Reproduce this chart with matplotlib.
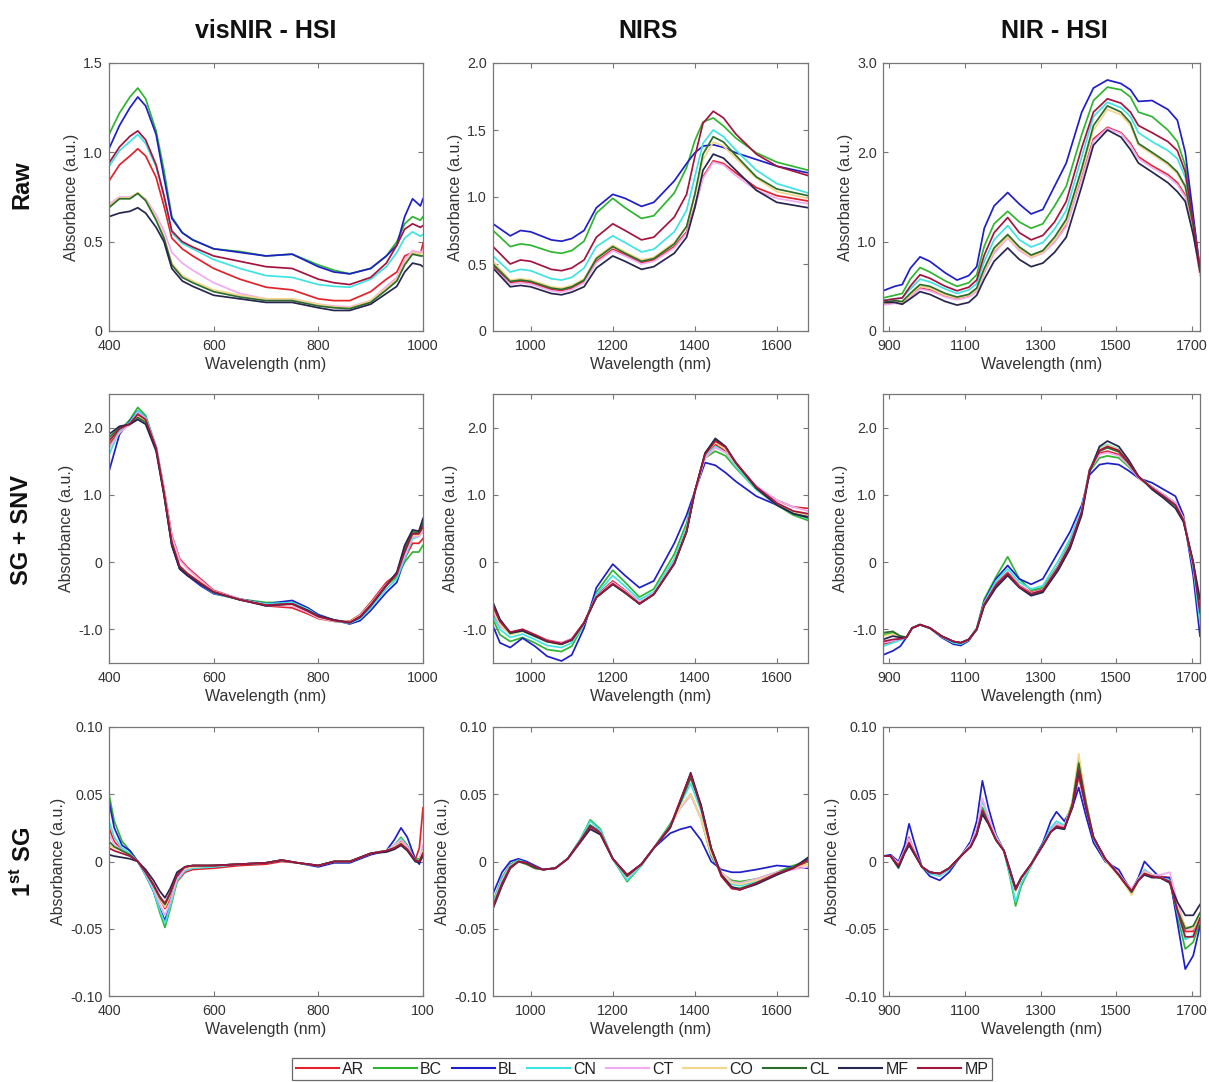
import matplotlib
matplotlib.use('Agg')
import matplotlib.pyplot as plt
from matplotlib.lines import Line2D

plt.rcParams['font.family'] = ['Liberation Sans', 'DejaVu Sans']
plt.rcParams['axes.unicode_minus'] = False
plt.rcParams['mathtext.fontset'] = 'custom'
plt.rcParams['mathtext.bf'] = 'Liberation Sans:bold'
plt.rcParams['mathtext.rm'] = 'Liberation Sans'

# ---------------- series ----------------
series = ['AR', 'BC', 'BL', 'CN', 'CT', 'CO', 'CL', 'MF', 'MP']
colors = {'AR': '#e3222b', 'BC': '#2fb52f', 'BL': '#1f1fc8', 'CN': '#3fe3e3',
          'CT': '#f2aaf0', 'CO': '#f6d68c', 'CL': '#2b6e2b', 'MF': '#26264e',
          'MP': '#a3143f'}

col_titles = ['visNIR - HSI', 'NIRS', 'NIR - HSI']
row_titles = ['Raw', 'SG + SNV', '1$^{\\mathbf{st}}$ SG']

# ---------------- Raw, visNIR-HSI ----------------
wl_raw_vis = [400, 420, 440, 455, 470, 490, 505, 520, 540, 560, 600, 650, 700, 750, 800, 830, 860, 900, 930, 950, 965, 980, 995, 1000]
raw_vis_AR = [0.84, 0.93, 0.98, 1.02, 0.98, 0.86, 0.70, 0.52, 0.46, 0.42, 0.35, 0.29, 0.245, 0.23, 0.18, 0.17, 0.17, 0.22, 0.29, 0.33, 0.42, 0.44, 0.43, 0.49]
raw_vis_BC = [1.10, 1.22, 1.31, 1.36, 1.30, 1.12, 0.90, 0.64, 0.55, 0.51, 0.46, 0.445, 0.42, 0.43, 0.37, 0.34, 0.32, 0.35, 0.42, 0.50, 0.60, 0.64, 0.62, 0.64]
raw_vis_BL = [1.02, 1.15, 1.25, 1.31, 1.26, 1.10, 0.86, 0.63, 0.55, 0.51, 0.46, 0.44, 0.42, 0.43, 0.36, 0.33, 0.32, 0.35, 0.42, 0.48, 0.64, 0.74, 0.70, 0.74]
raw_vis_CN = [0.92, 1.01, 1.06, 1.10, 1.05, 0.92, 0.75, 0.55, 0.49, 0.46, 0.40, 0.35, 0.31, 0.30, 0.26, 0.25, 0.245, 0.29, 0.36, 0.44, 0.52, 0.555, 0.53, 0.54]
raw_vis_CT = [0.71, 0.75, 0.75, 0.77, 0.74, 0.65, 0.56, 0.44, 0.38, 0.34, 0.27, 0.21, 0.18, 0.18, 0.15, 0.14, 0.135, 0.17, 0.25, 0.30, 0.40, 0.45, 0.44, 0.45]
raw_vis_CO = [0.70, 0.745, 0.745, 0.775, 0.735, 0.63, 0.53, 0.38, 0.31, 0.28, 0.23, 0.20, 0.18, 0.18, 0.15, 0.135, 0.13, 0.17, 0.24, 0.29, 0.38, 0.44, 0.43, 0.44]
raw_vis_CL = [0.69, 0.74, 0.74, 0.77, 0.73, 0.62, 0.52, 0.37, 0.30, 0.27, 0.22, 0.19, 0.17, 0.17, 0.14, 0.13, 0.125, 0.16, 0.23, 0.28, 0.37, 0.43, 0.42, 0.42]
raw_vis_MF = [0.64, 0.66, 0.67, 0.69, 0.66, 0.58, 0.50, 0.35, 0.28, 0.25, 0.20, 0.18, 0.16, 0.16, 0.13, 0.115, 0.115, 0.15, 0.21, 0.25, 0.33, 0.38, 0.37, 0.36]
raw_vis_MP = [0.94, 1.03, 1.09, 1.12, 1.07, 0.93, 0.76, 0.56, 0.50, 0.47, 0.42, 0.39, 0.36, 0.35, 0.29, 0.27, 0.26, 0.30, 0.38, 0.48, 0.57, 0.60, 0.58, 0.59]

# ---------------- Raw, NIRS ----------------
wl_raw_nirs = [908, 950, 975, 1000, 1050, 1075, 1100, 1130, 1160, 1200, 1230, 1270, 1300, 1350, 1380, 1400, 1420, 1445, 1470, 1500, 1550, 1600, 1676]
raw_nirs_AR = [0.49, 0.36, 0.37, 0.36, 0.31, 0.30, 0.32, 0.37, 0.52, 0.61, 0.57, 0.51, 0.53, 0.63, 0.74, 0.93, 1.15, 1.27, 1.25, 1.18, 1.07, 1.01, 0.97]
raw_nirs_BC = [0.75, 0.63, 0.65, 0.64, 0.59, 0.58, 0.60, 0.67, 0.88, 0.99, 0.92, 0.84, 0.86, 1.03, 1.22, 1.42, 1.56, 1.59, 1.53, 1.44, 1.33, 1.26, 1.20]
raw_nirs_BL = [0.80, 0.71, 0.75, 0.74, 0.68, 0.67, 0.69, 0.75, 0.92, 1.02, 0.99, 0.93, 0.96, 1.12, 1.25, 1.33, 1.38, 1.39, 1.37, 1.33, 1.28, 1.23, 1.18]
raw_nirs_CN = [0.56, 0.44, 0.46, 0.45, 0.39, 0.38, 0.40, 0.47, 0.63, 0.71, 0.66, 0.59, 0.61, 0.74, 0.90, 1.15, 1.40, 1.50, 1.45, 1.35, 1.20, 1.10, 1.03]
raw_nirs_CT = [0.47, 0.35, 0.36, 0.35, 0.30, 0.29, 0.31, 0.36, 0.51, 0.60, 0.56, 0.50, 0.52, 0.62, 0.73, 0.92, 1.14, 1.26, 1.24, 1.16, 1.05, 0.99, 0.95]
raw_nirs_CO = [0.52, 0.38, 0.39, 0.38, 0.33, 0.32, 0.34, 0.39, 0.55, 0.64, 0.59, 0.53, 0.55, 0.66, 0.78, 1.00, 1.28, 1.41, 1.38, 1.29, 1.14, 1.04, 0.99]
raw_nirs_CL = [0.50, 0.37, 0.38, 0.37, 0.32, 0.31, 0.33, 0.38, 0.54, 0.63, 0.58, 0.52, 0.54, 0.65, 0.78, 1.02, 1.32, 1.45, 1.41, 1.31, 1.15, 1.06, 1.01]
raw_nirs_MF = [0.47, 0.33, 0.34, 0.33, 0.28, 0.27, 0.29, 0.33, 0.47, 0.56, 0.52, 0.46, 0.48, 0.58, 0.70, 0.92, 1.20, 1.32, 1.29, 1.20, 1.05, 0.96, 0.92]
raw_nirs_MP = [0.63, 0.50, 0.53, 0.52, 0.46, 0.45, 0.47, 0.53, 0.70, 0.80, 0.75, 0.68, 0.70, 0.85, 1.02, 1.30, 1.55, 1.64, 1.59, 1.47, 1.32, 1.23, 1.16]

# ---------------- Raw, NIR-HSI ----------------
wl_raw_hsi = [883, 914, 934, 955, 981, 1007, 1048, 1079, 1110, 1131, 1151, 1177, 1213, 1244, 1275, 1306, 1337, 1368, 1409, 1440, 1477, 1513, 1538, 1559, 1595, 1637, 1662, 1683, 1704, 1722]
raw_hsi_AR = [0.30, 0.32, 0.31, 0.39, 0.48, 0.46, 0.39, 0.36, 0.39, 0.45, 0.66, 0.88, 1.05, 0.91, 0.83, 0.88, 1.00, 1.18, 1.72, 2.15, 2.28, 2.22, 2.10, 1.95, 1.85, 1.75, 1.66, 1.52, 1.12, 0.64]
raw_hsi_BC = [0.37, 0.40, 0.42, 0.58, 0.71, 0.66, 0.56, 0.50, 0.54, 0.63, 0.95, 1.20, 1.34, 1.22, 1.15, 1.20, 1.40, 1.62, 2.20, 2.58, 2.73, 2.70, 2.62, 2.45, 2.40, 2.25, 2.12, 1.85, 1.25, 0.70]
raw_hsi_BL = [0.45, 0.50, 0.52, 0.70, 0.83, 0.78, 0.65, 0.57, 0.62, 0.72, 1.15, 1.40, 1.55, 1.42, 1.31, 1.36, 1.62, 1.88, 2.45, 2.72, 2.81, 2.77, 2.70, 2.57, 2.58, 2.48, 2.36, 2.00, 1.30, 0.68]
raw_hsi_CN = [0.34, 0.36, 0.37, 0.47, 0.58, 0.55, 0.47, 0.42, 0.46, 0.53, 0.78, 1.02, 1.18, 1.02, 0.94, 0.99, 1.14, 1.35, 1.95, 2.40, 2.56, 2.50, 2.40, 2.22, 2.12, 2.02, 1.93, 1.72, 1.20, 0.68]
raw_hsi_CT = [0.29, 0.31, 0.30, 0.38, 0.47, 0.45, 0.38, 0.35, 0.38, 0.44, 0.65, 0.87, 1.04, 0.90, 0.82, 0.87, 0.99, 1.17, 1.70, 2.13, 2.27, 2.21, 2.08, 1.93, 1.83, 1.73, 1.64, 1.50, 1.10, 0.62]
raw_hsi_CO = [0.31, 0.33, 0.32, 0.40, 0.50, 0.48, 0.40, 0.37, 0.40, 0.46, 0.68, 0.90, 1.05, 0.92, 0.83, 0.88, 1.02, 1.22, 1.78, 2.25, 2.48, 2.42, 2.30, 2.08, 1.98, 1.86, 1.76, 1.60, 1.16, 0.65]
raw_hsi_CL = [0.32, 0.34, 0.33, 0.42, 0.52, 0.50, 0.42, 0.38, 0.41, 0.48, 0.70, 0.93, 1.08, 0.94, 0.85, 0.90, 1.05, 1.25, 1.82, 2.30, 2.52, 2.45, 2.33, 2.10, 2.00, 1.88, 1.78, 1.62, 1.18, 0.66]
raw_hsi_MF = [0.32, 0.32, 0.30, 0.36, 0.44, 0.41, 0.33, 0.29, 0.32, 0.40, 0.58, 0.78, 0.93, 0.80, 0.72, 0.76, 0.88, 1.05, 1.62, 2.08, 2.25, 2.17, 2.03, 1.88, 1.78, 1.66, 1.56, 1.45, 1.08, 0.68]
raw_hsi_MP = [0.34, 0.36, 0.37, 0.50, 0.63, 0.59, 0.50, 0.45, 0.49, 0.57, 0.85, 1.10, 1.27, 1.10, 1.02, 1.07, 1.22, 1.45, 2.05, 2.45, 2.60, 2.55, 2.45, 2.30, 2.22, 2.12, 2.02, 1.78, 1.22, 0.70]

# ---------------- SG + SNV, visNIR-HSI ----------------
wl_snv_vis = [400, 420, 440, 455, 470, 490, 505, 520, 535, 550, 575, 600, 650, 700, 750, 780, 800, 830, 860, 880, 900, 930, 950, 965, 980, 992, 1000]
snv_vis_AR = [1.75, 1.95, 2.05, 2.20, 2.12, 1.72, 1.10, 0.40, 0.05, -0.08, -0.25, -0.42, -0.55, -0.65, -0.68, -0.77, -0.84, -0.88, -0.88, -0.78, -0.60, -0.30, -0.18, 0.05, 0.28, 0.28, 0.35]
snv_vis_BC = [1.70, 1.95, 2.12, 2.30, 2.18, 1.72, 1.05, 0.30, -0.08, -0.18, -0.33, -0.45, -0.55, -0.60, -0.60, -0.72, -0.82, -0.88, -0.90, -0.80, -0.62, -0.35, -0.22, 0.00, 0.15, 0.15, 0.25]
snv_vis_BL = [1.35, 1.90, 2.10, 2.25, 2.15, 1.70, 1.02, 0.25, -0.10, -0.20, -0.35, -0.47, -0.55, -0.62, -0.57, -0.68, -0.78, -0.86, -0.92, -0.87, -0.72, -0.45, -0.30, 0.05, 0.40, 0.45, 0.55]
snv_vis_CN = [1.60, 1.95, 2.08, 2.25, 2.15, 1.72, 1.05, 0.30, -0.08, -0.18, -0.33, -0.46, -0.56, -0.62, -0.60, -0.70, -0.80, -0.87, -0.91, -0.84, -0.68, -0.40, -0.25, 0.05, 0.35, 0.38, 0.45]
snv_vis_CT = [1.70, 1.92, 2.05, 2.22, 2.13, 1.72, 1.08, 0.38, 0.03, -0.10, -0.27, -0.43, -0.55, -0.64, -0.65, -0.75, -0.83, -0.88, -0.89, -0.79, -0.62, -0.33, -0.18, 0.10, 0.38, 0.38, 0.45]
snv_vis_CO = [1.80, 1.98, 2.06, 2.18, 2.10, 1.70, 1.05, 0.32, -0.05, -0.16, -0.30, -0.44, -0.56, -0.64, -0.63, -0.73, -0.82, -0.87, -0.89, -0.80, -0.63, -0.35, -0.18, 0.15, 0.40, 0.40, 0.50]
snv_vis_CL = [1.85, 2.00, 2.05, 2.15, 2.08, 1.68, 1.02, 0.27, -0.08, -0.18, -0.32, -0.45, -0.56, -0.64, -0.62, -0.72, -0.81, -0.86, -0.90, -0.81, -0.64, -0.34, -0.16, 0.20, 0.45, 0.44, 0.58]
snv_vis_MF = [1.90, 2.02, 2.05, 2.12, 2.05, 1.65, 1.00, 0.25, -0.10, -0.20, -0.33, -0.45, -0.56, -0.65, -0.62, -0.72, -0.80, -0.86, -0.90, -0.82, -0.65, -0.35, -0.15, 0.25, 0.48, 0.46, 0.65]
snv_vis_MP = [1.80, 1.98, 2.06, 2.20, 2.12, 1.70, 1.04, 0.30, -0.06, -0.17, -0.31, -0.44, -0.56, -0.64, -0.62, -0.73, -0.81, -0.87, -0.90, -0.81, -0.64, -0.35, -0.18, 0.15, 0.42, 0.42, 0.52]

# ---------------- SG + SNV, NIRS ----------------
wl_snv_nirs = [908, 925, 950, 980, 1010, 1040, 1075, 1100, 1130, 1160, 1200, 1230, 1265, 1300, 1350, 1380, 1400, 1425, 1450, 1475, 1500, 1550, 1600, 1640, 1676]
snv_nirs_AR = [-0.75, -0.95, -1.05, -1.00, -1.08, -1.16, -1.20, -1.14, -0.90, -0.50, -0.28, -0.42, -0.60, -0.47, 0.00, 0.48, 1.05, 1.58, 1.75, 1.65, 1.45, 1.12, 0.92, 0.82, 0.80]
snv_nirs_BC = [-0.85, -1.08, -1.18, -1.12, -1.20, -1.30, -1.33, -1.25, -0.92, -0.45, -0.12, -0.30, -0.52, -0.40, 0.12, 0.58, 1.05, 1.55, 1.65, 1.58, 1.40, 1.08, 0.85, 0.70, 0.62]
snv_nirs_BL = [-0.95, -1.20, -1.27, -1.13, -1.25, -1.40, -1.47, -1.38, -0.98, -0.38, -0.03, -0.20, -0.38, -0.28, 0.28, 0.70, 1.05, 1.48, 1.44, 1.33, 1.20, 0.98, 0.85, 0.75, 0.68]
snv_nirs_CN = [-0.80, -1.00, -1.12, -1.07, -1.15, -1.24, -1.27, -1.20, -0.92, -0.48, -0.20, -0.36, -0.56, -0.44, 0.05, 0.52, 1.05, 1.58, 1.72, 1.63, 1.42, 1.08, 0.85, 0.72, 0.65]
snv_nirs_CT = [-0.72, -0.95, -1.06, -1.01, -1.09, -1.17, -1.20, -1.14, -0.90, -0.51, -0.30, -0.43, -0.60, -0.46, 0.00, 0.47, 1.03, 1.55, 1.70, 1.63, 1.45, 1.13, 0.92, 0.82, 0.76]
snv_nirs_CO = [-0.70, -0.92, -1.08, -1.03, -1.11, -1.19, -1.23, -1.16, -0.91, -0.52, -0.32, -0.45, -0.62, -0.48, -0.02, 0.46, 1.04, 1.60, 1.78, 1.68, 1.46, 1.10, 0.86, 0.74, 0.70]
snv_nirs_CL = [-0.65, -0.88, -1.06, -1.02, -1.10, -1.18, -1.22, -1.16, -0.91, -0.53, -0.33, -0.46, -0.62, -0.48, -0.03, 0.45, 1.04, 1.62, 1.82, 1.71, 1.47, 1.10, 0.85, 0.72, 0.66]
snv_nirs_MF = [-0.60, -0.85, -1.05, -1.02, -1.10, -1.18, -1.22, -1.16, -0.90, -0.52, -0.33, -0.45, -0.62, -0.48, -0.02, 0.45, 1.05, 1.62, 1.84, 1.72, 1.48, 1.10, 0.85, 0.72, 0.67]
snv_nirs_MP = [-0.65, -0.88, -1.04, -1.00, -1.08, -1.17, -1.21, -1.15, -0.90, -0.52, -0.32, -0.45, -0.62, -0.48, -0.02, 0.46, 1.05, 1.60, 1.80, 1.71, 1.48, 1.12, 0.88, 0.76, 0.72]

# ---------------- SG + SNV, NIR-HSI ----------------
wl_snv_hsi = [883, 909, 929, 945, 960, 981, 1007, 1038, 1069, 1089, 1110, 1131, 1151, 1182, 1213, 1244, 1275, 1306, 1347, 1378, 1409, 1430, 1456, 1477, 1507, 1533, 1559, 1595, 1626, 1657, 1678, 1704, 1722]
snv_hsi_AR = [-1.22, -1.18, -1.15, -1.12, -0.98, -0.93, -0.98, -1.10, -1.18, -1.20, -1.15, -1.00, -0.62, -0.32, -0.15, -0.35, -0.45, -0.40, -0.05, 0.28, 0.78, 1.38, 1.62, 1.65, 1.60, 1.45, 1.25, 1.12, 1.00, 0.88, 0.65, -0.05, -0.80]
snv_hsi_BC = [-1.08, -1.05, -1.10, -1.12, -0.98, -0.93, -0.98, -1.10, -1.20, -1.22, -1.15, -0.98, -0.55, -0.22, 0.08, -0.25, -0.42, -0.38, -0.05, 0.30, 0.80, 1.35, 1.55, 1.58, 1.55, 1.42, 1.26, 1.12, 1.00, 0.88, 0.65, -0.05, -0.75]
snv_hsi_BL = [-1.38, -1.32, -1.25, -1.12, -0.98, -0.93, -0.98, -1.12, -1.22, -1.24, -1.17, -1.00, -0.58, -0.25, -0.05, -0.25, -0.33, -0.25, 0.15, 0.45, 0.85, 1.30, 1.45, 1.47, 1.45, 1.36, 1.25, 1.18, 1.08, 0.98, 0.70, -0.20, -1.10]
snv_hsi_CN = [-1.25, -1.20, -1.16, -1.12, -0.98, -0.93, -0.98, -1.11, -1.20, -1.22, -1.16, -1.00, -0.60, -0.28, -0.10, -0.30, -0.40, -0.35, 0.02, 0.35, 0.80, 1.38, 1.70, 1.75, 1.68, 1.50, 1.27, 1.12, 1.00, 0.88, 0.65, -0.08, -0.90]
snv_hsi_CT = [-1.20, -1.17, -1.14, -1.12, -0.98, -0.93, -0.98, -1.10, -1.18, -1.20, -1.15, -1.00, -0.62, -0.33, -0.16, -0.36, -0.46, -0.41, -0.06, 0.27, 0.77, 1.37, 1.60, 1.63, 1.58, 1.44, 1.25, 1.12, 1.00, 0.88, 0.66, -0.02, -0.70]
snv_hsi_CO = [-1.10, -1.07, -1.12, -1.12, -0.98, -0.93, -0.98, -1.10, -1.18, -1.20, -1.15, -1.00, -0.64, -0.36, -0.18, -0.37, -0.48, -0.43, -0.10, 0.22, 0.72, 1.36, 1.68, 1.74, 1.67, 1.49, 1.27, 1.10, 0.97, 0.83, 0.62, 0.00, -0.65]
snv_hsi_CL = [-1.05, -1.03, -1.10, -1.12, -0.98, -0.93, -0.98, -1.10, -1.18, -1.20, -1.15, -1.00, -0.63, -0.35, -0.17, -0.37, -0.48, -0.43, -0.08, 0.24, 0.74, 1.36, 1.65, 1.70, 1.64, 1.47, 1.27, 1.10, 0.97, 0.84, 0.62, 0.00, -0.70]
snv_hsi_MF = [-1.15, -1.10, -1.12, -1.12, -0.98, -0.93, -0.98, -1.10, -1.18, -1.20, -1.15, -1.00, -0.65, -0.38, -0.20, -0.38, -0.50, -0.45, -0.12, 0.20, 0.70, 1.35, 1.72, 1.80, 1.72, 1.52, 1.28, 1.08, 0.95, 0.80, 0.60, 0.00, -0.55]
snv_hsi_MP = [-1.18, -1.15, -1.14, -1.12, -0.98, -0.93, -0.98, -1.10, -1.18, -1.20, -1.15, -1.00, -0.63, -0.34, -0.17, -0.37, -0.47, -0.42, -0.08, 0.25, 0.75, 1.37, 1.66, 1.72, 1.66, 1.48, 1.27, 1.10, 0.98, 0.85, 0.63, -0.02, -0.75]

# ---------------- 1st SG, visNIR-HSI ----------------
wl_sg_vis = [400, 410, 425, 440, 455, 470, 485, 497, 507, 517, 530, 545, 560, 600, 650, 700, 730, 760, 800, 830, 860, 900, 930, 945, 958, 970, 985, 993, 1000]
sg_vis_AR = [0.025, 0.015, 0.008, 0.005, 0.000, -0.008, -0.018, -0.028, -0.035, -0.028, -0.015, -0.008, -0.006, -0.005, -0.003, -0.002, 0.000, -0.001, -0.003, 0.000, 0.000, 0.006, 0.008, 0.011, 0.015, 0.010, 0.001, 0.010, 0.040]
sg_vis_BC = [0.050, 0.030, 0.015, 0.008, 0.000, -0.010, -0.022, -0.038, -0.049, -0.035, -0.015, -0.006, -0.004, -0.003, -0.002, -0.001, 0.001, -0.001, -0.003, 0.000, 0.000, 0.006, 0.008, 0.012, 0.018, 0.012, 0.002, 0.002, 0.008]
sg_vis_BL = [0.045, 0.025, 0.012, 0.008, 0.000, -0.010, -0.022, -0.035, -0.044, -0.030, -0.012, -0.005, -0.004, -0.003, -0.002, -0.001, 0.001, -0.001, -0.004, -0.001, -0.001, 0.005, 0.008, 0.016, 0.025, 0.018, 0.002, -0.002, 0.010]
sg_vis_CN = [0.030, 0.018, 0.010, 0.006, 0.000, -0.010, -0.022, -0.036, -0.046, -0.033, -0.014, -0.007, -0.005, -0.004, -0.002, -0.001, 0.001, -0.001, -0.003, 0.000, 0.000, 0.006, 0.008, 0.012, 0.017, 0.011, 0.001, 0.000, 0.010]
sg_vis_CT = [0.020, 0.013, 0.008, 0.005, 0.000, -0.009, -0.020, -0.032, -0.040, -0.030, -0.013, -0.006, -0.004, -0.003, -0.002, -0.001, 0.001, -0.001, -0.003, 0.000, 0.000, 0.006, 0.008, 0.012, 0.016, 0.011, 0.001, 0.000, 0.012]
sg_vis_CO = [0.012, 0.010, 0.008, 0.005, 0.000, -0.008, -0.018, -0.028, -0.034, -0.025, -0.010, -0.005, -0.004, -0.003, -0.002, -0.001, 0.001, -0.001, -0.003, 0.000, 0.000, 0.006, 0.008, 0.011, 0.014, 0.009, 0.001, 0.000, 0.008]
sg_vis_CL = [0.015, 0.011, 0.008, 0.005, 0.000, -0.008, -0.018, -0.027, -0.032, -0.024, -0.010, -0.004, -0.003, -0.003, -0.002, -0.001, 0.001, -0.001, -0.003, 0.000, 0.000, 0.006, 0.008, 0.010, 0.013, 0.009, 0.001, 0.000, 0.006]
sg_vis_MF = [0.005, 0.004, 0.003, 0.002, 0.000, -0.006, -0.014, -0.022, -0.027, -0.020, -0.008, -0.004, -0.003, -0.003, -0.002, -0.001, 0.001, -0.001, -0.003, 0.000, 0.000, 0.006, 0.007, 0.009, 0.012, 0.008, 0.000, -0.001, 0.004]
sg_vis_MP = [0.010, 0.008, 0.006, 0.004, 0.000, -0.008, -0.017, -0.026, -0.031, -0.023, -0.010, -0.004, -0.003, -0.003, -0.002, -0.001, 0.001, -0.001, -0.003, 0.000, 0.000, 0.006, 0.008, 0.010, 0.013, 0.009, 0.001, 0.000, 0.006]

# ---------------- 1st SG, NIRS ----------------
wl_sg_nirs = [908, 930, 950, 970, 990, 1010, 1030, 1060, 1090, 1120, 1145, 1170, 1200, 1235, 1270, 1300, 1340, 1365, 1390, 1415, 1440, 1465, 1490, 1510, 1550, 1600, 1640, 1676]
sg_nirs_AR = [-0.033, -0.016, -0.004, 0.000, -0.002, -0.005, -0.006, -0.005, 0.002, 0.014, 0.025, 0.020, 0.002, -0.010, -0.002, 0.010, 0.025, 0.045, 0.065, 0.041, 0.009, -0.011, -0.020, -0.021, -0.016, -0.009, -0.005, 0.000]
sg_nirs_BC = [-0.030, -0.012, -0.002, 0.001, -0.001, -0.004, -0.006, -0.005, 0.002, 0.016, 0.031, 0.024, 0.002, -0.015, -0.003, 0.010, 0.028, 0.040, 0.050, 0.032, 0.004, -0.009, -0.014, -0.015, -0.013, -0.008, -0.003, 0.000]
sg_nirs_BL = [-0.024, -0.008, 0.000, 0.002, 0.000, -0.003, -0.006, -0.005, 0.002, 0.015, 0.027, 0.022, 0.002, -0.011, -0.002, 0.010, 0.021, 0.024, 0.026, 0.016, 0.000, -0.006, -0.008, -0.008, -0.006, -0.003, -0.004, -0.005]
sg_nirs_CN = [-0.031, -0.013, -0.003, 0.001, -0.001, -0.004, -0.006, -0.005, 0.002, 0.016, 0.030, 0.023, 0.002, -0.014, -0.003, 0.010, 0.027, 0.043, 0.058, 0.038, 0.008, -0.009, -0.017, -0.018, -0.015, -0.009, -0.004, 0.001]
sg_nirs_CT = [-0.032, -0.014, -0.003, 0.000, -0.002, -0.005, -0.006, -0.005, 0.002, 0.015, 0.027, 0.021, 0.002, -0.012, -0.002, 0.010, 0.026, 0.040, 0.049, 0.032, 0.006, -0.008, -0.015, -0.016, -0.013, -0.008, -0.006, -0.004]
sg_nirs_CO = [-0.034, -0.017, -0.004, 0.000, -0.002, -0.005, -0.006, -0.005, 0.002, 0.014, 0.026, 0.020, 0.002, -0.011, -0.002, 0.010, 0.025, 0.041, 0.050, 0.032, 0.006, -0.009, -0.016, -0.017, -0.014, -0.009, -0.005, -0.002]
sg_nirs_CL = [-0.033, -0.016, -0.004, 0.000, -0.002, -0.005, -0.006, -0.005, 0.002, 0.015, 0.027, 0.021, 0.002, -0.011, -0.002, 0.010, 0.026, 0.044, 0.062, 0.042, 0.010, -0.010, -0.019, -0.020, -0.016, -0.009, -0.004, 0.002]
sg_nirs_MF = [-0.035, -0.018, -0.005, 0.000, -0.001, -0.004, -0.006, -0.005, 0.002, 0.014, 0.024, 0.020, 0.002, -0.010, -0.002, 0.010, 0.025, 0.045, 0.066, 0.042, 0.010, -0.010, -0.019, -0.021, -0.017, -0.010, -0.005, 0.003]
sg_nirs_MP = [-0.034, -0.017, -0.005, 0.000, -0.001, -0.004, -0.006, -0.005, 0.002, 0.015, 0.026, 0.021, 0.002, -0.010, -0.002, 0.010, 0.026, 0.046, 0.065, 0.040, 0.009, -0.011, -0.020, -0.021, -0.016, -0.009, -0.005, 0.001]

# ---------------- 1st SG, NIR-HSI ----------------
wl_sg_hsi = [883, 903, 924, 940, 952, 965, 986, 1007, 1033, 1058, 1089, 1115, 1131, 1146, 1162, 1182, 1203, 1218, 1234, 1249, 1275, 1306, 1327, 1342, 1363, 1384, 1401, 1420, 1440, 1471, 1507, 1523, 1541, 1559, 1575, 1595, 1616, 1642, 1662, 1683, 1704, 1722]
sg_hsi_AR = [0.004, 0.004, -0.001, 0.008, 0.018, 0.008, -0.004, -0.008, -0.009, -0.005, 0.004, 0.012, 0.022, 0.040, 0.029, 0.017, 0.008, -0.006, -0.021, -0.012, -0.002, 0.012, 0.023, 0.027, 0.025, 0.040, 0.063, 0.040, 0.018, 0.002, -0.009, -0.015, -0.021, -0.013, -0.007, -0.010, -0.011, -0.012, -0.035, -0.052, -0.052, -0.040]
sg_hsi_BC = [0.004, 0.004, -0.002, 0.008, 0.016, 0.008, -0.004, -0.009, -0.010, -0.006, 0.004, 0.012, 0.022, 0.040, 0.030, 0.018, 0.008, -0.010, -0.033, -0.018, -0.003, 0.013, 0.024, 0.028, 0.026, 0.044, 0.075, 0.044, 0.018, 0.001, -0.010, -0.016, -0.024, -0.013, -0.008, -0.011, -0.012, -0.015, -0.040, -0.065, -0.060, -0.045]
sg_hsi_BL = [0.004, 0.005, 0.000, 0.012, 0.028, 0.015, -0.004, -0.011, -0.014, -0.008, 0.004, 0.015, 0.030, 0.060, 0.040, 0.020, 0.008, -0.005, -0.020, -0.012, -0.002, 0.014, 0.030, 0.037, 0.030, 0.040, 0.055, 0.034, 0.014, 0.000, -0.006, -0.014, -0.022, -0.012, 0.000, -0.006, -0.012, -0.012, -0.045, -0.080, -0.070, -0.048]
sg_hsi_CN = [0.004, 0.004, -0.002, 0.008, 0.017, 0.008, -0.004, -0.009, -0.011, -0.006, 0.004, 0.013, 0.024, 0.045, 0.032, 0.019, 0.008, -0.009, -0.030, -0.016, -0.003, 0.013, 0.025, 0.030, 0.027, 0.043, 0.070, 0.042, 0.017, 0.001, -0.009, -0.015, -0.023, -0.013, -0.006, -0.010, -0.012, -0.014, -0.038, -0.058, -0.055, -0.042]
sg_hsi_CT = [0.004, 0.004, -0.001, 0.008, 0.017, 0.008, -0.004, -0.008, -0.010, -0.005, 0.004, 0.013, 0.024, 0.047, 0.033, 0.018, 0.008, -0.006, -0.021, -0.012, -0.002, 0.012, 0.023, 0.028, 0.026, 0.041, 0.066, 0.040, 0.018, 0.002, -0.009, -0.015, -0.021, -0.013, -0.007, -0.010, -0.010, -0.008, -0.030, -0.050, -0.050, -0.040]
sg_hsi_CO = [0.004, 0.004, -0.003, 0.007, 0.014, 0.007, -0.004, -0.008, -0.009, -0.005, 0.004, 0.011, 0.020, 0.037, 0.028, 0.016, 0.008, -0.006, -0.022, -0.012, -0.002, 0.012, 0.022, 0.026, 0.025, 0.045, 0.080, 0.046, 0.018, 0.001, -0.011, -0.017, -0.025, -0.014, -0.008, -0.011, -0.012, -0.015, -0.034, -0.048, -0.050, -0.040]
sg_hsi_CL = [0.004, 0.004, -0.005, 0.006, 0.013, 0.006, -0.004, -0.008, -0.009, -0.005, 0.004, 0.011, 0.020, 0.036, 0.028, 0.016, 0.008, -0.006, -0.021, -0.012, -0.002, 0.012, 0.022, 0.026, 0.024, 0.043, 0.073, 0.044, 0.018, 0.002, -0.010, -0.016, -0.023, -0.014, -0.009, -0.011, -0.012, -0.015, -0.036, -0.050, -0.048, -0.038]
sg_hsi_MF = [0.004, 0.004, -0.004, 0.006, 0.012, 0.006, -0.004, -0.008, -0.009, -0.005, 0.004, 0.011, 0.020, 0.035, 0.028, 0.016, 0.008, -0.006, -0.020, -0.012, -0.002, 0.012, 0.022, 0.025, 0.024, 0.040, 0.066, 0.040, 0.018, 0.002, -0.010, -0.016, -0.022, -0.014, -0.010, -0.012, -0.012, -0.016, -0.030, -0.040, -0.040, -0.032]
sg_hsi_MP = [0.004, 0.004, -0.003, 0.007, 0.014, 0.007, -0.004, -0.008, -0.009, -0.005, 0.004, 0.011, 0.021, 0.038, 0.029, 0.016, 0.008, -0.006, -0.021, -0.012, -0.002, 0.012, 0.022, 0.026, 0.025, 0.041, 0.068, 0.041, 0.018, 0.002, -0.010, -0.016, -0.022, -0.014, -0.009, -0.011, -0.012, -0.015, -0.036, -0.056, -0.056, -0.042]

# ---------------- axis settings ----------------
xlims = [(400, 1000), (908, 1676), (883, 1722)]
xticks = [[400, 600, 800, 1000], [1000, 1200, 1400, 1600], [900, 1100, 1300, 1500, 1700]]
xticklabels = [['400', '600', '800', '1000'], ['1000', '1200', '1400', '1600'],
               ['900', '1100', '1300', '1500', '1700']]
xticklabels_vis_sg = ['400', '600', '800', '100']

ylims_raw = [(0, 1.5), (0, 2.0), (0, 3.0)]
yticks_raw = [[0, 0.5, 1.0, 1.5], [0, 0.5, 1.0, 1.5, 2.0], [0, 1.0, 2.0, 3.0]]
yticklabels_raw = [['0', '0.5', '1.0', '1.5'], ['0', '0.5', '1.0', '1.5', '2.0'],
                   ['0', '1.0', '2.0', '3.0']]
ylim_snv = (-1.5, 2.5)
yticks_snv = [-1.0, 0, 1.0, 2.0]
yticklabels_snv = ['-1.0', '0', '1.0', '2.0']
ylim_sg = (-0.1, 0.1)
yticks_sg = [-0.10, -0.05, 0, 0.05, 0.10]
yticklabels_sg = ['-0.10', '-0.05', '0', '0.05', '0.10']

g = globals()
panels = [
    [('raw_vis', wl_raw_vis), ('raw_nirs', wl_raw_nirs), ('raw_hsi', wl_raw_hsi)],
    [('snv_vis', wl_snv_vis), ('snv_nirs', wl_snv_nirs), ('snv_hsi', wl_snv_hsi)],
    [('sg_vis', wl_sg_vis), ('sg_nirs', wl_sg_nirs), ('sg_hsi', wl_sg_hsi)],
]

W, H = 1209, 1082
fig = plt.figure(figsize=(W / 100, H / 100), dpi=100)

col_px = [(109, 314), (493, 315), (883, 317)]
row_px = [(63, 268), (394, 269), (727, 269)]

for r in range(3):
    for c in range(3):
        left, w = col_px[c]
        top, h = row_px[r]
        ax = fig.add_axes([left / W, 1 - (top + h) / H, w / W, h / H])
        prefix, wl = panels[r][c]
        for s in series:
            ax.plot(wl, g[prefix + '_' + s], color=colors[s], lw=1.25)
        ax.set_xlim(*xlims[c])
        ax.set_xticks(xticks[c])
        if r == 2 and c == 0:
            ax.set_xticklabels(xticklabels_vis_sg)
        else:
            ax.set_xticklabels(xticklabels[c])
        if r == 0:
            ax.set_ylim(*ylims_raw[c])
            ax.set_yticks(yticks_raw[c])
            ax.set_yticklabels(yticklabels_raw[c])
        elif r == 1:
            ax.set_ylim(*ylim_snv)
            ax.set_yticks(yticks_snv)
            ax.set_yticklabels(yticklabels_snv)
        else:
            ax.set_ylim(*ylim_sg)
            ax.set_yticks(yticks_sg)
            ax.set_yticklabels(yticklabels_sg)
        ax.tick_params(direction='in', top=True, right=True, length=3.5, width=0.8,
                       color='#777777', labelcolor='#333333', labelsize=10.3)
        ax.tick_params(axis='x', pad=5.5)
        ax.tick_params(axis='y', pad=4.5)
        for sp in ax.spines.values():
            sp.set_color('#777777')
            sp.set_linewidth(0.9)
        ax.set_xlabel('Wavelength (nm)', fontsize=11.5, color='#333333', labelpad=3)
        ax.set_ylabel('Absorbance (a.u.)', fontsize=11.5, color='#333333', labelpad=3)

# column titles
col_title_x = [266, 648, 1054]
for c in range(3):
    fig.text(col_title_x[c] / W, 1 - 31 / H, col_titles[c], ha='center', va='center',
             fontsize=18, fontweight='bold', color='#111111')

# row titles
row_title_y = [185, 530, 862]
for r in range(3):
    fig.text(22 / W, 1 - row_title_y[r] / H, row_titles[r], ha='center', va='center',
             rotation=90, fontsize=17, fontweight='bold', color='#111111')

handles = [Line2D([0], [0], color=colors[s], lw=1.5) for s in series]
leg = fig.legend(handles, series, loc='center', bbox_to_anchor=(642 / W, 1 - 1069 / H),
                 ncol=9, frameon=True, fancybox=False, edgecolor='#444444',
                 handlelength=2.7, columnspacing=0.6, handletextpad=0.2,
                 borderpad=0.22, borderaxespad=0, fontsize=11.5)
leg.get_frame().set_linewidth(0.9)
for t in leg.get_texts():
    t.set_color('#222222')

fig.savefig('out.png', dpi=100)
